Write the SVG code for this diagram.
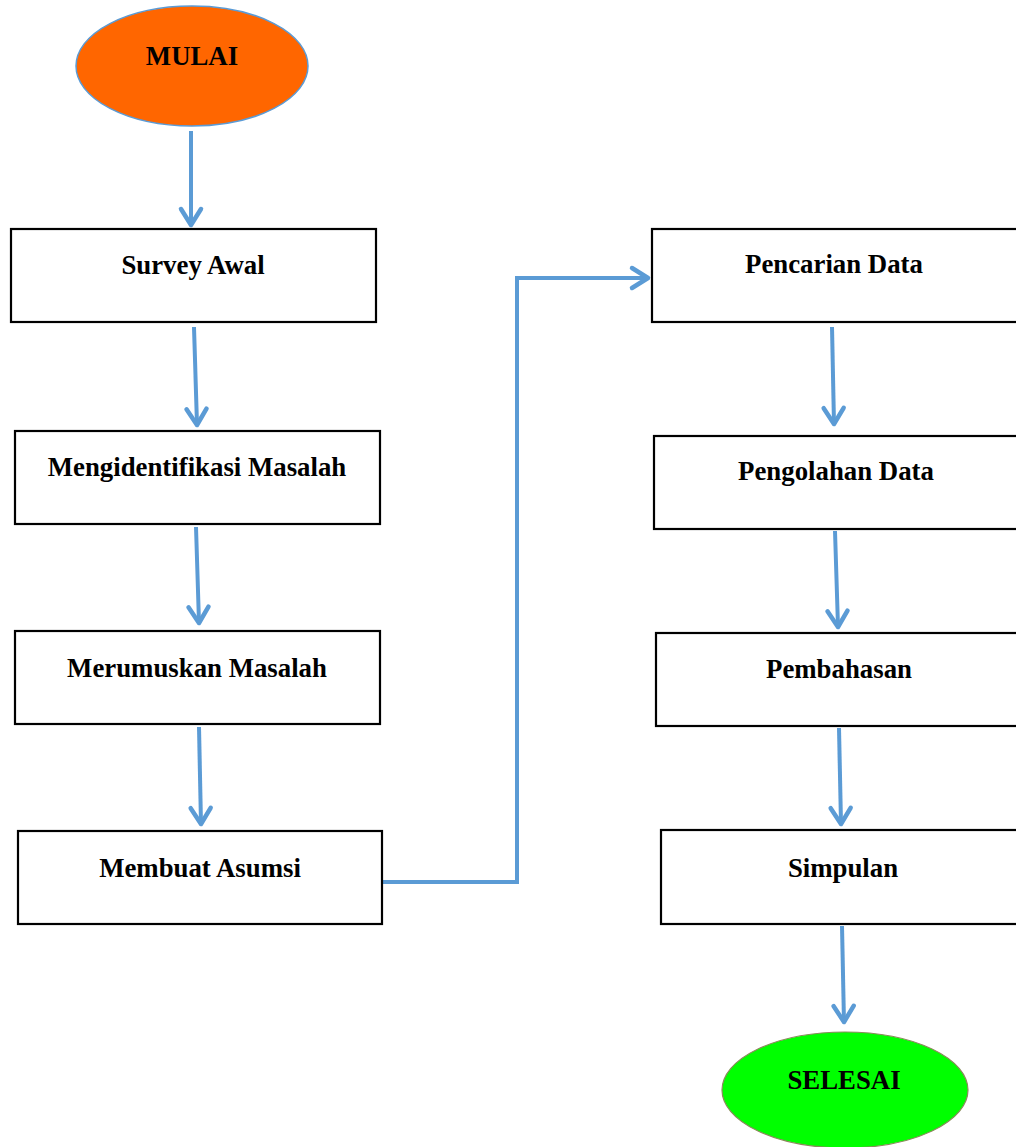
<svg xmlns="http://www.w3.org/2000/svg" width="1016" height="1147" viewBox="0 0 1016 1147">
<defs>
<marker id="arr" markerWidth="26" markerHeight="28" viewBox="-20 -14 24 28" refX="0" refY="0" orient="auto" markerUnits="userSpaceOnUse">
<path d="M-16,-10 L0,0 L-16,10" fill="none" stroke="#5B9BD5" stroke-width="4.5" stroke-linecap="round" stroke-linejoin="round"/>
</marker>
<style>
.box{fill:#fff;stroke:#000;stroke-width:2.2}
.t{font-family:"Liberation Serif","Times New Roman",serif;font-weight:bold;font-size:26.8px;text-anchor:middle;fill:#000}
.c{fill:none;stroke:#5B9BD5;stroke-width:4}
</style>
</defs>
<rect width="1016" height="1147" fill="#fff"/>
<g id="connectors">
<line class="c" x1="191" y1="131" x2="191" y2="225" marker-end="url(#arr)"/>
<line class="c" x1="194" y1="327" x2="197" y2="425" marker-end="url(#arr)"/>
<line class="c" x1="196" y1="527" x2="199" y2="623" marker-end="url(#arr)"/>
<line class="c" x1="199" y1="727" x2="201" y2="824" marker-end="url(#arr)"/>
<polyline class="c" points="383,882 517,882 517,278 648,278" marker-end="url(#arr)"/>
<line class="c" x1="832" y1="327" x2="834" y2="424" marker-end="url(#arr)"/>
<line class="c" x1="835" y1="531" x2="838" y2="627" marker-end="url(#arr)"/>
<line class="c" x1="839" y1="728" x2="841" y2="824" marker-end="url(#arr)"/>
<line class="c" x1="842" y1="926" x2="844" y2="1022" marker-end="url(#arr)"/>
</g>
<g id="mulai">
<ellipse cx="192" cy="66" rx="116" ry="60" fill="#FF6600" stroke="#5B9BD5" stroke-width="1.5"/>
<text class="t" x="192" y="65">MULAI</text>
</g>
<g id="survey">
<rect class="box" x="11" y="229" width="365" height="93"/>
<text class="t" x="193" y="274">Survey Awal</text>
</g>
<g id="identifikasi">
<rect class="box" x="15" y="431" width="365" height="93"/>
<text class="t" x="197" y="476">Mengidentifikasi Masalah</text>
</g>
<g id="merumuskan">
<rect class="box" x="15" y="631" width="365" height="93"/>
<text class="t" x="197" y="677">Merumuskan Masalah</text>
</g>
<g id="asumsi">
<rect class="box" x="18" y="831" width="364" height="93"/>
<text class="t" x="200" y="877">Membuat Asumsi</text>
</g>
<g id="pencarian">
<rect class="box" x="652" y="229" width="366" height="93"/>
<text class="t" x="834" y="273">Pencarian Data</text>
</g>
<g id="pengolahan">
<rect class="box" x="654" y="436" width="364" height="93"/>
<text class="t" x="836" y="480">Pengolahan Data</text>
</g>
<g id="pembahasan">
<rect class="box" x="656" y="633" width="362" height="93"/>
<text class="t" x="839" y="678">Pembahasan</text>
</g>
<g id="simpulan">
<rect class="box" x="661" y="830" width="357" height="94"/>
<text class="t" x="843" y="877">Simpulan</text>
</g>
<g id="selesai">
<ellipse cx="845" cy="1090" rx="123" ry="58" fill="#00FF00" stroke="#8a8a5a" stroke-width="1.2"/>
<text class="t" x="844" y="1089">SELESAI</text>
</g>
</svg>
